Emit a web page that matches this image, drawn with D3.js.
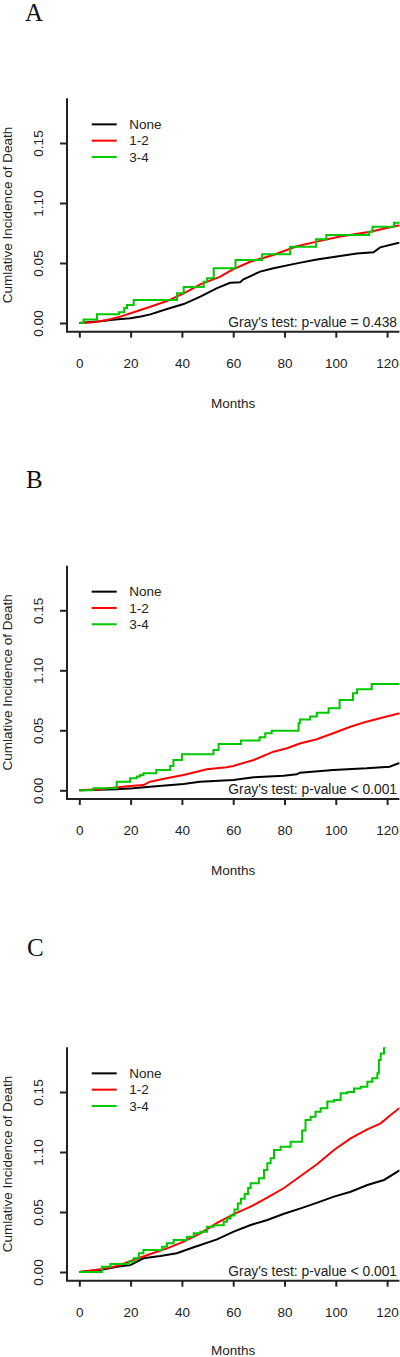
<!DOCTYPE html>
<html>
<head>
<meta charset="utf-8">
<script src="https://cdn.jsdelivr.net/npm/d3@7"></script>
<style>
  html, body { margin: 0; padding: 0; background: #fff; }
  svg { display: block; }
  text { font-family: "Liberation Sans", Arial, sans-serif; fill: #222; }
</style>
</head>
<body>
<svg id="chart" width="400" height="1357"></svg>
<script>
// ---------------- data ----------------
const panelLetters = ["A", "B", "C"];
const seriesNames = ["None", "1-2", "3-4"];
const seriesColors = ["#000000", "#ff0000", "#00c800"];
const xTicks = [0, 20, 40, 60, 80, 100, 120];
const yTicks = [0, 0.05, 0.10, 0.15];
const yTickLabels = ["0.00", "0.05", "1.10", "0.15"];
const pValueTexts = ["Gray's test: p-value = 0.438", "Gray's test: p-value < 0.001", "Gray's test: p-value < 0.001"];

// Panel A  [month, cumulative incidence]
const aNone = [[0,0],[8.2,0.0015],[14,0.003],[19.9,0.0039],[24,0.0055],[27.7,0.0072],[34.2,0.0117],[40.7,0.0158],[47.2,0.022],[53.7,0.029],[58.8,0.0335],[62.7,0.0339],[64,0.0364],[70.5,0.0428],[75.7,0.0456],[84.8,0.0497],[92.6,0.053],[101.7,0.0558],[108.2,0.058],[114.7,0.0589],[117.3,0.063],[123.8,0.0664],[125,0.067]];
const aOneTwo = [[0,0],[5.6,0.0006],[10.8,0.0025],[16,0.0053],[21.2,0.0089],[27.7,0.0136],[34.2,0.0183],[40.7,0.0247],[47.2,0.0322],[55,0.0386],[59.5,0.0442],[66.6,0.051],[75.7,0.0567],[84.8,0.064],[92.6,0.0678],[101.7,0.072],[113.4,0.076],[123.8,0.081],[125,0.0813]];
const aThreeFour = [[0,0],[1.7,0.003],[6.9,0.0072],[15.4,0.0089],[17.5,0.0125],[18.6,0.015],[21.2,0.0192],[38.1,0.0247],[40.7,0.030],[48.5,0.0344],[49.8,0.0372],[52.4,0.0456],[60.9,0.0525],[71.3,0.0572],[82.2,0.0636],[92.3,0.0697],[96.3,0.0733],[113,0.0761],[114.3,0.0803],[122.7,0.0836],[125,0.0836]];

// Panel B
const bNone = [[0,0],[14.6,0.0008],[21,0.0017],[27.6,0.003],[40.6,0.0053],[47,0.0072],[60,0.0086],[68,0.0108],[79.6,0.0122],[84.8,0.0133],[86,0.0147],[99,0.017],[112,0.0183],[121,0.0197],[124.5,0.0225],[125,0.0226]];
const bOneTwo = [[0,0],[8,0.0008],[19.8,0.0036],[25,0.0044],[27.6,0.0072],[34,0.010],[40.6,0.0128],[47,0.0161],[49.7,0.0175],[57.5,0.0192],[60,0.0203],[68,0.0253],[75.7,0.0322],[81,0.035],[86,0.039],[92.6,0.0425],[99,0.0475],[105.7,0.053],[112,0.0572],[118.7,0.0608],[124.5,0.064],[125,0.0641]];
const bThreeFour = [[0,0],[5.5,0.0017],[14.6,0.0072],[19.8,0.010],[22.4,0.0114],[23.7,0.0128],[25,0.0142],[30,0.017],[35.4,0.0203],[36.7,0.0253],[40,0.030],[52.3,0.0336],[54.3,0.0386],[63,0.0414],[70.3,0.0442],[72.5,0.0475],[75,0.0497],[85.5,0.0558],[86,0.059],[90,0.0614],[92.6,0.0647],[97.2,0.0683],[101.5,0.0753],[106.7,0.0808],[108.3,0.0842],[114,0.0886],[125,0.0886]];

// Panel C
const cNone = [[0,0],[8.2,0.0017],[14.7,0.0044],[19.9,0.0058],[25,0.0114],[31.6,0.0133],[38,0.0156],[44.6,0.0206],[53.7,0.0272],[60.2,0.0336],[66.8,0.0392],[73.3,0.0433],[79.8,0.0485],[86.3,0.053],[92.8,0.0578],[99.3,0.0628],[105.8,0.0669],[112.3,0.0725],[118.8,0.0767],[124.7,0.0845],[125,0.085]];
const cOneTwo = [[0,0],[8.2,0.0022],[14.7,0.005],[21.2,0.010],[27.7,0.015],[34.2,0.0197],[40.7,0.0253],[47.2,0.0322],[53.7,0.041],[60.2,0.0483],[66.8,0.0544],[73.3,0.062],[79.8,0.070],[86.3,0.080],[92.8,0.090],[99.3,0.1017],[105.8,0.1114],[112.3,0.1189],[117.5,0.1239],[121.4,0.1308],[124.7,0.1364],[125,0.1366]];
const cThreeFour = [[0,0],[8.8,0.0044],[12.1,0.0067],[19.3,0.0086],[21.2,0.0114],[23.2,0.0156],[25,0.0183],[32.3,0.0211],[34.2,0.0239],[36.8,0.0267],[42,0.0294],[44.6,0.0322],[47.2,0.0336],[49.8,0.0378],[52.4,0.039],[56.3,0.0419],[57.6,0.0445],[59,0.047],[60.5,0.052],[61.8,0.057],[63,0.061],[64.5,0.065],[65.8,0.070],[66.8,0.074],[70,0.0781],[72,0.085],[73.3,0.0906],[74.6,0.0947],[75.9,0.1017],[78.5,0.1044],[82.4,0.1086],[86.9,0.118],[88.2,0.1267],[90.2,0.1294],[92.1,0.1336],[94.1,0.1364],[96.7,0.142],[99.3,0.1433],[101.9,0.149],[104.5,0.150],[107.1,0.153],[109.7,0.1544],[112.3,0.1586],[114.2,0.1614],[116.2,0.1656],[116.8,0.1767],[117.5,0.182],[118.8,0.1878],[119.4,0.193]];

const panelSeries = [
  [aNone, aOneTwo, aThreeFour],
  [bNone, bOneTwo, bThreeFour],
  [cNone, cOneTwo, cThreeFour]
];

// ---------------- layout ----------------
const zeroY = [323, 790.3, 1272];          // pixel row of y = 0 for each panel
const letterBaseline = [21, 488, 956];
const letterX = [25, 26, 27];
const monthsBaseline = [407.5, 874.8, 1355];
const boxLeft = 67, boxRight = 399.4;
const pxPerUnit = 1200;
const yMin = -0.0072, yMax = 0.1872;
const FS = 13.5;

const svg = d3.select("#chart");
const x = d3.scaleLinear().domain([-4.8, 124.8]).range([boxLeft, boxRight]);

panelLetters.forEach((letter, p) => {
  const z = zeroY[p];
  const y = d3.scaleLinear().domain([yMin, yMax]).range([z - yMin * pxPerUnit, z - yMax * pxPerUnit]);
  const top = y(yMax), bottom = y(yMin);
  const g = svg.append("g");

  // panel letter
  g.append("text").attr("x", letterX[p]).attr("y", letterBaseline[p])
    .style("font-family", "'Liberation Serif', 'Times New Roman', serif")
    .style("font-size", "25px").style("fill", "#111").text(letter);

  // clip
  const clipId = "clip" + p;
  g.append("clipPath").attr("id", clipId).append("rect")
    .attr("x", boxLeft).attr("y", top).attr("width", boxRight - boxLeft).attr("height", bottom - top);

  // curves
  const lineLinear = d3.line().x(d => x(d[0])).y(d => y(d[1])).curve(d3.curveLinear);
  const lineStep = d3.line().x(d => x(d[0])).y(d => y(d[1])).curve(d3.curveStepAfter);
  const cg = g.append("g").attr("clip-path", `url(#${clipId})`);
  panelSeries[p].forEach((s, i) => {
    cg.append("path").datum(s)
      .attr("d", i === 2 ? lineStep : lineLinear)
      .attr("fill", "none").attr("stroke", seriesColors[i])
      .attr("stroke-width", 2).attr("stroke-linejoin", "miter");
  });

  // box (bty = "l")
  g.append("path")
    .attr("d", `M${boxLeft},${top}V${bottom}H${boxRight}`)
    .attr("fill", "none").attr("stroke", "#222").attr("stroke-width", 2);

  // y axis
  const ya = g.append("g").attr("transform", `translate(${boxLeft},0)`)
    .call(d3.axisLeft(y).tickValues(yTicks).tickSize(7).tickSizeOuter(0)
      .tickFormat((d, i) => yTickLabels[i]));
  ya.select(".domain").remove();
  ya.selectAll(".tick line").attr("stroke", "#222").attr("stroke-width", 2);
  ya.selectAll(".tick text")
    .attr("transform", "rotate(-90)").attr("x", 0).attr("y", -24).attr("dy", 0)
    .attr("text-anchor", "middle").style("font-size", FS + "px").attr("fill", "#222");

  // x axis
  const xa = g.append("g").attr("transform", `translate(0,${bottom})`)
    .call(d3.axisBottom(x).tickValues(xTicks).tickSize(6).tickSizeOuter(0));
  xa.select(".domain").remove();
  xa.selectAll(".tick line").attr("stroke", "#222").attr("stroke-width", 2);
  xa.selectAll(".tick text").attr("y", 36).attr("dy", 0)
    .style("font-size", FS + "px").attr("fill", "#222");

  // axis titles
  g.append("text").attr("x", (boxLeft + boxRight) / 2).attr("y", monthsBaseline[p])
    .attr("text-anchor", "middle").style("font-size", FS + "px").text("Months");
  g.append("text")
    .attr("transform", `translate(11.5,${(top + bottom) / 2}) rotate(-90)`)
    .attr("text-anchor", "middle").style("font-size", FS + "px")
    .text("Cumlative Incidence of Death");

  // p-value
  g.append("text").attr("x", 397).attr("y", z + 4)
    .attr("text-anchor", "end").style("font-size", "13.8px").text(pValueTexts[p]);

  // legend
  const lg = g.append("g");
  seriesNames.forEach((name, i) => {
    const ly = top + 26 + i * 16.3;
    lg.append("line").attr("x1", 91.7).attr("x2", 116.7).attr("y1", ly).attr("y2", ly)
      .attr("stroke", seriesColors[i]).attr("stroke-width", 2);
    lg.append("text").attr("x", 129.3).attr("y", ly + 4.8)
      .style("font-size", FS + "px").text(name);
  });
});
</script>
</body>
</html>
